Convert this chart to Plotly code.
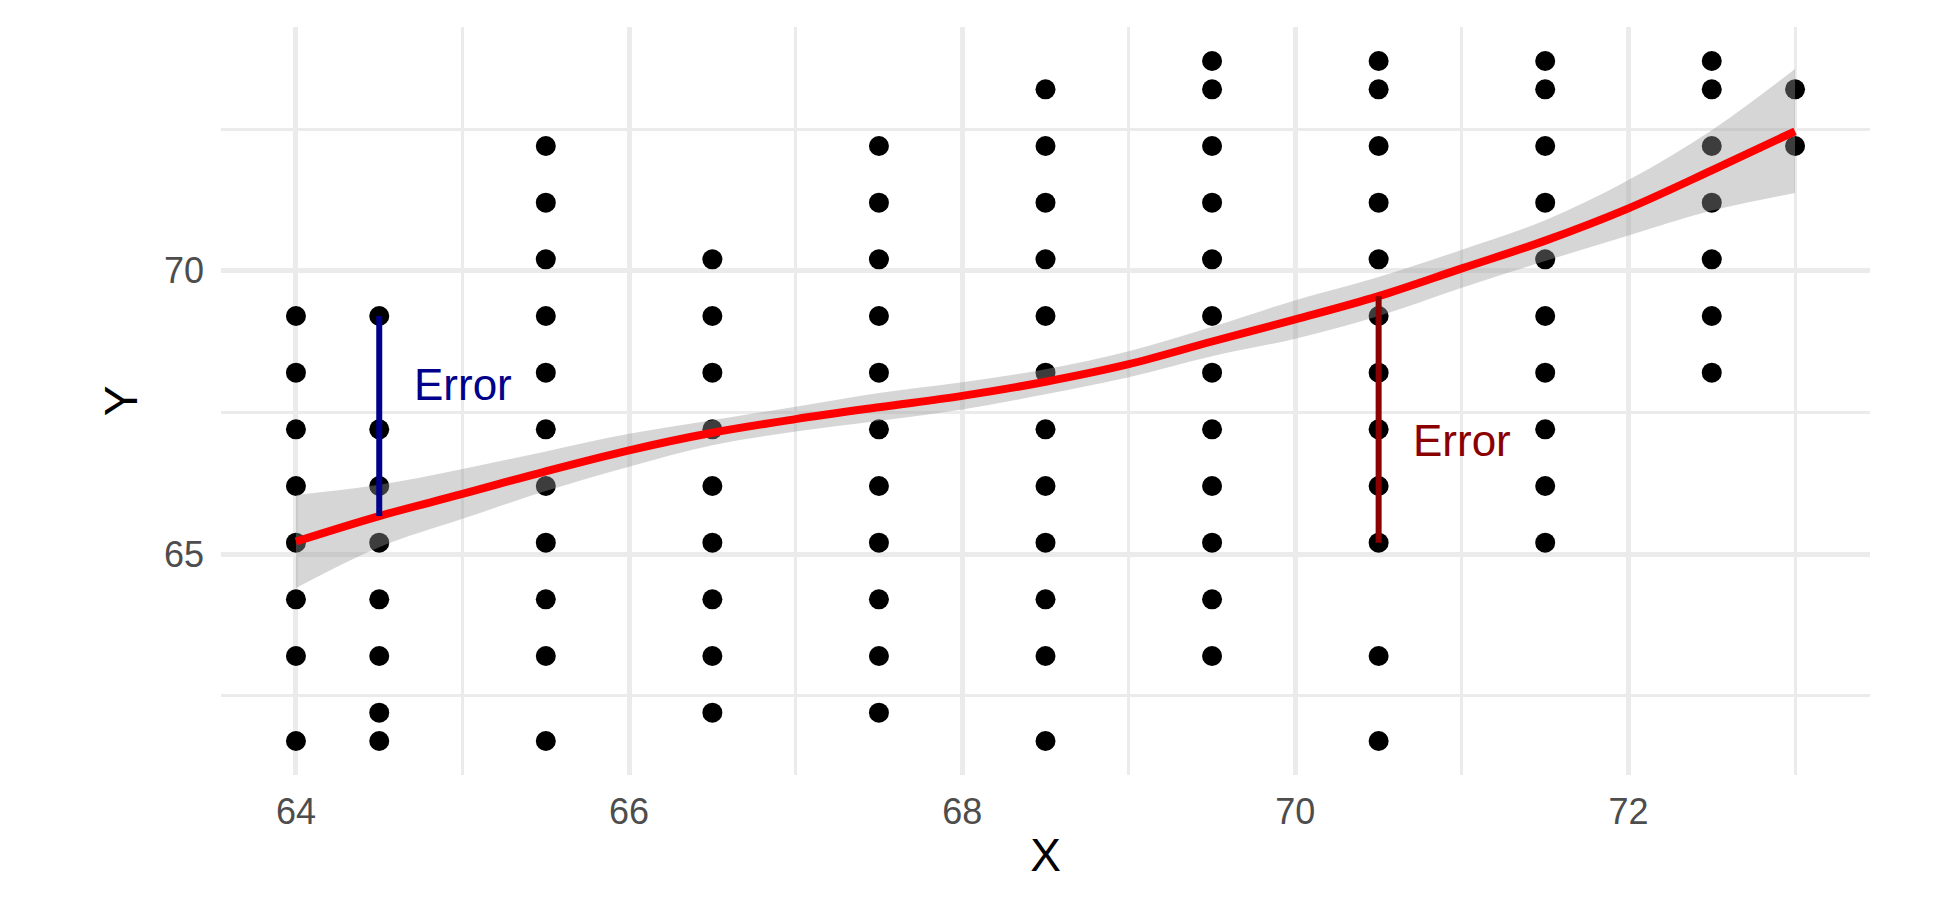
import plotly.graph_objects as go

# ---- scatter data (x column -> observed y values) ----
col_x = [64, 64.5, 65.5, 66.5, 67.5, 68.5, 69.5, 70.5, 71.5, 72.5, 73]
col_y = [
    [61.7, 63.2, 64.2, 65.2, 66.2, 67.2, 68.2, 69.2],
    [61.7, 62.2, 63.2, 64.2, 65.2, 66.2, 67.2, 69.2],
    [61.7, 63.2, 64.2, 65.2, 66.2, 67.2, 68.2, 69.2, 70.2, 71.2, 72.2],
    [62.2, 63.2, 64.2, 65.2, 66.2, 67.2, 68.2, 69.2, 70.2],
    [62.2, 63.2, 64.2, 65.2, 66.2, 67.2, 68.2, 69.2, 70.2, 71.2, 72.2],
    [61.7, 63.2, 64.2, 65.2, 66.2, 67.2, 68.2, 69.2, 70.2, 71.2, 72.2, 73.2],
    [63.2, 64.2, 65.2, 66.2, 67.2, 68.2, 69.2, 70.2, 71.2, 72.2, 73.2, 73.7],
    [61.7, 63.2, 65.2, 66.2, 67.2, 68.2, 69.2, 70.2, 71.2, 72.2, 73.2, 73.7],
    [65.2, 66.2, 67.2, 68.2, 69.2, 70.2, 71.2, 72.2, 73.2, 73.7],
    [68.2, 69.2, 70.2, 71.2, 72.2, 73.2, 73.7],
    [72.2, 73.2],
]

# ---- loess smooth with confidence band ----
smooth_x = [64, 64.5, 65, 65.5, 66, 66.5, 67, 67.5, 68, 68.5, 69, 69.5, 70, 70.5, 71, 71.5, 72, 72.5, 73]
smooth_fit = [65.22, 65.67, 66.06, 66.46, 66.83, 67.14, 67.38, 67.59, 67.79, 68.04, 68.35, 68.75, 69.14, 69.55, 70.04, 70.53, 71.10, 71.77, 72.46]
smooth_hi = [66.04, 66.22, 66.50, 66.81, 67.12, 67.36, 67.60, 67.84, 68.03, 68.26, 68.58, 69.01, 69.48, 69.89, 70.37, 70.89, 71.60, 72.48, 73.56]
smooth_lo = [64.40, 65.12, 65.62, 66.11, 66.54, 66.92, 67.16, 67.35, 67.55, 67.82, 68.12, 68.49, 68.80, 69.20, 69.70, 70.17, 70.62, 71.06, 71.37]

# ---- error segments and labels ----
err_blue_x = [64.5, 64.5]
err_blue_y = [69.2, 65.67]
err_red_x = [70.5, 70.5]
err_red_y = [65.2, 69.55]
label_text = ["Error", "Error"]
label_x = [65.0, 71.0]
label_y = [68.0, 67.0]
label_color = ["#00008B", "#8B0000"]

xs, ys = [], []
for cx, cy in zip(col_x, col_y):
    for v in cy:
        xs.append(cx)
        ys.append(v)

fig = go.Figure()
fig.add_trace(go.Scatter(x=xs, y=ys, mode="markers",
                         marker=dict(color="black", size=20, line=dict(width=0)),
                         hoverinfo="skip"))
fig.add_trace(go.Scatter(x=smooth_x, y=smooth_lo, mode="lines",
                         line=dict(width=0, shape="spline", color="rgba(0,0,0,0)"),
                         hoverinfo="skip"))
fig.add_trace(go.Scatter(x=smooth_x, y=smooth_hi, mode="lines", fill="tonexty",
                         fillcolor="rgba(153,153,153,0.4)",
                         line=dict(width=0, shape="spline", color="rgba(0,0,0,0)"),
                         hoverinfo="skip"))
fig.add_trace(go.Scatter(x=smooth_x, y=smooth_fit, mode="lines",
                         line=dict(color="#FF0000", width=8, shape="spline")))
fig.add_trace(go.Scatter(x=err_blue_x, y=err_blue_y, mode="lines",
                         line=dict(color="#00008B", width=6)))
fig.add_trace(go.Scatter(x=err_red_x, y=err_red_y, mode="lines",
                         line=dict(color="#8B0000", width=6)))

for t, lx, ly, c in zip(label_text, label_x, label_y, label_color):
    fig.add_annotation(x=lx, y=ly, text=t, showarrow=False,
                       font=dict(size=44, color=c, family="Liberation Sans, Arial"),
                       xanchor="center", yanchor="middle")

grid = "#EBEBEB"
fig.update_layout(
    width=1949, height=906,
    margin=dict(l=213, r=87, t=19, b=139),
    plot_bgcolor="white", paper_bgcolor="white",
    showlegend=False,
    font=dict(family="Liberation Sans, Arial", color="#4D4D4D"),
    xaxis=dict(range=[63.55, 73.45], tickvals=[64, 66, 68, 70, 72],
               showgrid=True, gridcolor=grid, gridwidth=4.5, zeroline=False,
               showline=False, ticks="", tickfont=dict(size=36, color="#4D4D4D"),
               ticklabelstandoff=12,
               minor=dict(tickvals=[65, 67, 69, 71, 73], showgrid=True, gridcolor=grid, gridwidth=2.5),
               title=dict(text="X", font=dict(size=46, color="black"), standoff=7)),
    yaxis=dict(range=[61.1, 74.3], tickvals=[65, 70],
               showgrid=True, gridcolor=grid, gridwidth=4.5, zeroline=False,
               showline=False, ticks="", tickfont=dict(size=36, color="#4D4D4D"),
               ticklabelstandoff=16,
               minor=dict(tickvals=[62.5, 67.5, 72.5], showgrid=True, gridcolor=grid, gridwidth=2.5),
               title=dict(text="Y", font=dict(size=46, color="black"), standoff=11)),
)

fig.write_html("out.html")
